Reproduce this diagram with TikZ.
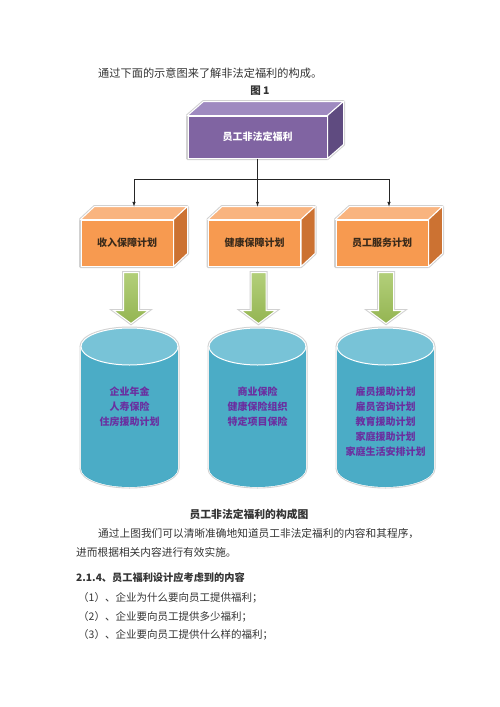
\documentclass[tikz,border=0pt]{standalone}
\usepackage{fontspec}
\setmainfont{Noto Sans CJK SC}
\usepackage{xcolor}
\usetikzlibrary{calc,backgrounds}
\definecolor{purplefront}{HTML}{8064A2}
\definecolor{purpletop}{HTML}{9F8AC0}
\definecolor{purpleside}{HTML}{5F4B80}
\definecolor{orangefront}{HTML}{F79A50}
\definecolor{orangetop}{HTML}{F9B47F}
\definecolor{orangeside}{HTML}{CC7232}
\definecolor{arrowgreen}{HTML}{94B552}
\definecolor{arrowlight}{HTML}{B3CF7A}
\definecolor{cylbody}{HTML}{4BACC6}
\definecolor{cyltop}{HTML}{78C3D7}
\definecolor{listpurple}{HTML}{6A2FA0}
\definecolor{textgray}{HTML}{333333}
\definecolor{plantext}{HTML}{3A2A1A}

\begin{document}
\begin{tikzpicture}[x=1pt,y=-1pt,>=latex,
  face/.style={draw=white,line width=1pt},
  shade3d/.style={draw=black!18,line width=3pt,line join=round},
  box/.style={face,inner sep=0pt},
  plan/.style={box,fill=orangefront,minimum width=92pt,minimum height=46pt,
    text=plantext,font=\fontsize{10}{12}\selectfont\bfseries},
  fatarrow/.style={preaction={draw=black!18,line width=3pt},draw=white,line width=1pt,
    top color=arrowlight,bottom color=arrowgreen},
  cyltext/.style={inner sep=0pt,anchor=north,align=center,text=listpurple,
    font=\fontsize{10}{15}\selectfont\bfseries},
  body/.style={inner sep=0pt,anchor=west,text=textgray,font=\fontsize{10.7}{12}\selectfont}]
%page
\useasboundingbox (0,0) rectangle (500,707);

%intro
\node[body,font=\fontsize{11.2}{13}\selectfont] (intro) at (98,73) {通过下面的示意图来了解非法定福利的构成。};
\node[inner sep=0pt,text=textgray,font=\fontsize{10.5}{12}\selectfont\bfseries] (fignum) at (260,91) {图 1};

%top box
\node[box,fill=purplefront,minimum width=139pt,minimum height=42pt,text=white,
  font=\fontsize{10}{12}\selectfont\bfseries] (welfare) at (257.5,137) {员工非法定福利};
\begin{scope}[on background layer]
\draw[shade3d] (welfare.south west) -- (welfare.north west) -- ++(16,-14)
  -- ($(welfare.north east)+(16,-14)$) -- ($(welfare.south east)+(16,-14)$) -- (welfare.south east) -- cycle;
\filldraw[face,fill=purpletop] (welfare.north west) -- ++(16,-14) -- ($(welfare.north east)+(16,-14)$) -- (welfare.north east) -- cycle;
\filldraw[face,fill=purpleside] (welfare.north east) -- ++(16,-14) -- ($(welfare.south east)+(16,-14)$) -- (welfare.south east) -- cycle;
\end{scope}

%plan boxes
\foreach \n/\x/\t in {1/127/收入保障计划,2/254.5/健康保障计划,3/382/员工服务计划}{
  \node[plan] (plan\n) at (\x,243) {\t};
  \begin{scope}[on background layer]
  \draw[shade3d] (plan\n.south west) -- (plan\n.north west) -- ++(14,-13)
    -- ($(plan\n.north east)+(14,-13)$) -- ($(plan\n.south east)+(14,-13)$) -- (plan\n.south east) -- cycle;
  \filldraw[face,fill=orangetop] (plan\n.north west) -- ++(14,-13) -- ($(plan\n.north east)+(14,-13)$) -- (plan\n.north east) -- cycle;
  \filldraw[face,fill=orangeside] (plan\n.north east) -- ++(14,-13) -- ($(plan\n.south east)+(14,-13)$) -- (plan\n.south east) -- cycle;
  \end{scope}
  \coordinate (tip\n) at ($(plan\n.north)+(7,-13)$);
}

%connectors
\coordinate (split) at ($(welfare.south)+(0,21)$);
\draw[->,black!85,line width=0.6pt] (welfare.south) -- (welfare.south |- tip2);
\draw[->,black!85,line width=0.6pt] (split) -| (tip1);
\draw[->,black!85,line width=0.6pt] (split) -| (tip3);

%cylinders
\foreach \n/\x/\t in {1/129.5/{企业年金\\人寿保险\\住房援助计划},
  2/257.5/{商业保险\\健康保险组织\\特定项目保险},
  3/385.5/{雇员援助计划\\雇员咨询计划\\教育援助计划\\家庭援助计划\\家庭生活安排计划}}{
  \draw[black!18,line width=3pt] (\x,468.5) ellipse (48.5 and 18.5) (\x,346.5) ellipse (48.5 and 18.5)
    (\x-48.5,346.5) -- (\x-48.5,468.5) (\x+48.5,346.5) -- (\x+48.5,468.5);
  \draw[white,line width=1.2pt] (\x,468.5) ellipse (48.5 and 18.5)
    (\x-48.5,346.5) -- (\x-48.5,468.5) (\x+48.5,346.5) -- (\x+48.5,468.5);
  \fill[cylbody] (\x,468.5) ellipse (48.5 and 18.5);
  \fill[cylbody] (\x-48.5,346.5) rectangle (\x+48.5,468.5);
  \filldraw[face,fill=cyltop] (\x,346.5) ellipse (48.5 and 18.5);
  \node[cyltext] (list\n) at (\x,387) {\t};
  %green arrow
  \draw[fatarrow] ($(plan\n.south)+(-3.5,6)$) -- ++(15,0) -- ++(0,38) -- ++(10,0)
    -- ++(-17.5,13) -- ++(-17.5,-13) -- ++(10,0) -- cycle;
}

%caption and text
\node[inner sep=0pt,text=textgray,font=\fontsize{10.8}{13}\selectfont\bfseries] (caption) at (249,514) {员工非法定福利的构成图};
\node[body] (para1) at (98,534) {通过上图我们可以清晰准确地知道员工非法定福利的内容和其程序，};
\node[body] (para2) at (76,552) {进而根据相关内容进行有效实施。};
\node[body,font=\fontsize{10.2}{12}\selectfont\bfseries] (sect) at (76,578) {2.1.4、员工福利设计应考虑到的内容};
\node[body,font=\fontsize{10.5}{12}\selectfont] (item1) at (78,598) {（1）、企业为什么要向员工提供福利；};
\node[body,font=\fontsize{10.5}{12}\selectfont] (item2) at (78,617) {（2）、企业要向员工提供多少福利；};
\node[body,font=\fontsize{10.5}{12}\selectfont] (item3) at (78,635) {（3）、企业要向员工提供什么样的福利；};
\end{tikzpicture}
\end{document}
